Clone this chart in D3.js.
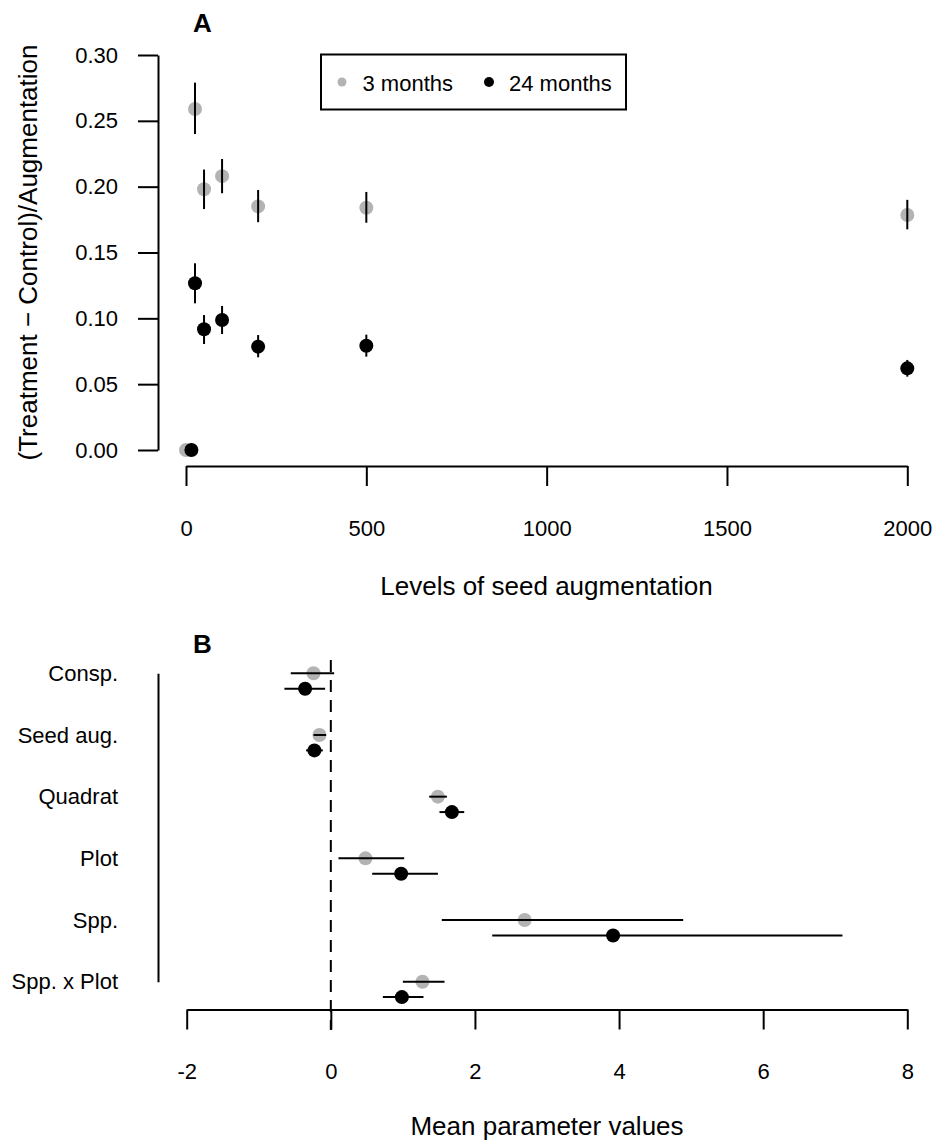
<!DOCTYPE html>
<html lang="en">
    <head>
        <meta charset="utf-8">
        <title></title>
        <script src="https://d3js.org/d3.v7.min.js"></script>
        <style type="text/css">
      body { margin: 0; background: #fff; }
      svg { font-family: "Liberation Sans", Arial, Helvetica, sans-serif; }
      .axis path, .axis line { stroke: #000; stroke-width: 2px; }
      .axis text { font-size: 22px; fill: #000; font-family: "Liberation Sans", Arial, Helvetica, sans-serif; }
      .lab { font-size: 26px; }
      .panel { font-size: 26px; font-weight: bold; }
        </style>
    </head>
    <body>
    <svg width="932" height="1142"></svg>
    <script>
      // panel A data
      var seedLevels3 = [0, 25, 50, 100, 200, 500, 2000];
      var seedLevels24 = [15, 25, 50, 100, 200, 500, 2000];
      var mean3 = [0, 0.259, 0.198, 0.208, 0.185, 0.184, 0.1785];
      var low3 = [0, 0.240, 0.183, 0.195, 0.173, 0.1726, 0.1676];
      var high3 = [0, 0.279, 0.213, 0.221, 0.1975, 0.196, 0.190];
      var mean24 = [0, 0.1266, 0.0917, 0.0987, 0.0785, 0.0792, 0.062];
      var low24 = [0, 0.1114, 0.0805, 0.0881, 0.0704, 0.0709, 0.0557];
      var high24 = [0, 0.1418, 0.1025, 0.1094, 0.0873, 0.0876, 0.0684];
      var xTicksA = [0, 500, 1000, 1500, 2000];
      var yTicksA = [0, 0.05, 0.10, 0.15, 0.20, 0.25, 0.30];

      // panel B data
      var terms = ["Consp.", "Seed aug.", "Quadrat", "Plot", "Spp.", "Spp. x Plot"];
      var pm3 = [-0.24, -0.158, 1.486, 0.481, 2.69, 1.272];
      var plo3 = [-0.556, -0.24, 1.365, 0.106, 1.54, 1.0];
      var phi3 = [0.046, -0.065, 1.611, 1.018, 4.89, 1.578];
      var pm24 = [-0.357, -0.228, 1.68, 0.976, 3.917, 0.986];
      var plo24 = [-0.644, -0.343, 1.508, 0.574, 2.24, 0.722];
      var phi24 = [-0.079, -0.111, 1.851, 1.486, 7.10, 1.286];
      var xTicksB = [-2, 0, 2, 4, 6, 8];

      var grey = "#b3b3b3";
      var svg = d3.select("svg");

      // ---------- panel A ----------
      var xA = d3.scaleLinear().domain([0, 2000]).range([186, 907.3]);
      var yA = d3.scaleLinear().domain([0, 0.30]).range([450, 55]);

      svg.append("g")
          .attr("class", "axis")
          .attr("transform", "translate(158,0)")
          .call(d3.axisLeft(yA).tickValues(yTicksA).tickFormat(d3.format(".2f"))
              .tickSizeInner(20).tickSizeOuter(0).tickPadding(20));
      svg.append("g")
          .attr("class", "axis")
          .attr("transform", "translate(0,466)")
          .call(d3.axisBottom(xA).tickValues(xTicksA).tickFormat(d => String(d))
              .tickSizeInner(20).tickSizeOuter(0).tickPadding(34));

      var seriesA = [
        {x: seedLevels3, m: mean3, lo: low3, hi: high3, col: grey},
        {x: seedLevels24, m: mean24, lo: low24, hi: high24, col: "#000"}
      ];
      seriesA.forEach(function(s) {
        var pts = s.m.map((v, i) => ({x: s.x[i], m: v, lo: s.lo[i], hi: s.hi[i]}));
        svg.append("g").selectAll("circle").data(pts).join("circle")
            .attr("cx", d => xA(d.x)).attr("cy", d => yA(d.m))
            .attr("r", 7).attr("fill", s.col);
        svg.append("g").selectAll("line").data(pts.filter(d => d.hi > d.lo)).join("line")
            .attr("x1", d => xA(d.x)).attr("x2", d => xA(d.x))
            .attr("y1", d => yA(d.lo)).attr("y2", d => yA(d.hi))
            .attr("stroke", "#000").attr("stroke-width", 2);
      });

      // legend
      var leg = svg.append("g");
      leg.append("rect").attr("x", 321).attr("y", 54.5).attr("width", 305).attr("height", 55)
          .attr("fill", "none").attr("stroke", "#000").attr("stroke-width", 2);
      leg.append("circle").attr("cx", 342).attr("cy", 82).attr("r", 4.5).attr("fill", grey);
      leg.append("text").attr("x", 362.5).attr("y", 90.5).style("font-size", "22px").text("3 months");
      leg.append("circle").attr("cx", 489).attr("cy", 82).attr("r", 5).attr("fill", "#000");
      leg.append("text").attr("x", 509).attr("y", 90.5).style("font-size", "22px").text("24 months");

      svg.append("text").attr("class", "panel").attr("x", 193).attr("y", 32).text("A");
      svg.append("text").attr("class", "lab")
          .attr("transform", "translate(36.5,252.5) rotate(-90)")
          .attr("text-anchor", "middle")
          .text("(Treatment \u2212 Control)/Augmentation");
      svg.append("text").attr("class", "lab")
          .attr("x", 546.5).attr("y", 595).attr("text-anchor", "middle")
          .text("Levels of seed augmentation");

      // ---------- panel B ----------
      var xB = d3.scaleLinear().domain([-2, 8]).range([186.7, 907.3]);
      var yB = d3.scaleLinear().domain([0, 5]).range([673.3, 981.7]);

      svg.append("line")
          .attr("x1", xB(0)).attr("x2", xB(0)).attr("y1", 660).attr("y2", 1030)
          .attr("stroke", "#000").attr("stroke-width", 2).attr("stroke-dasharray", "12,8");

      var yAxisB = d3.axisLeft(yB).tickValues(d3.range(terms.length))
          .tickFormat(i => terms[i]).tickSize(0).tickPadding(40);
      svg.append("g").attr("class", "axis")
          .attr("transform", "translate(158,0)")
          .call(yAxisB);
      svg.append("g").attr("class", "axis")
          .attr("transform", "translate(0,1009.5)")
          .call(d3.axisBottom(xB).tickValues(xTicksB).tickFormat(d => String(d))
              .tickSizeInner(20).tickSizeOuter(0).tickPadding(34));

      var seriesB = [
        {m: pm3, lo: plo3, hi: phi3, off: 0, col: grey},
        {m: pm24, lo: plo24, hi: phi24, off: 0.25, col: "#000"}
      ];
      seriesB.forEach(function(s) {
        var pts = s.m.map((v, i) => ({row: i + s.off, m: v, lo: s.lo[i], hi: s.hi[i]}));
        svg.append("g").selectAll("circle").data(pts).join("circle")
            .attr("cx", d => xB(d.m)).attr("cy", d => yB(d.row))
            .attr("r", 7).attr("fill", s.col);
        svg.append("g").selectAll("line").data(pts).join("line")
            .attr("x1", d => xB(d.lo)).attr("x2", d => xB(d.hi))
            .attr("y1", d => yB(d.row)).attr("y2", d => yB(d.row))
            .attr("stroke", "#000").attr("stroke-width", 2);
      });

      svg.append("text").attr("class", "panel").attr("x", 193).attr("y", 653).text("B");
      svg.append("text").attr("class", "lab")
          .attr("x", 547).attr("y", 1135).attr("text-anchor", "middle")
          .text("Mean parameter values");
    </script>
    </body>
</html>
